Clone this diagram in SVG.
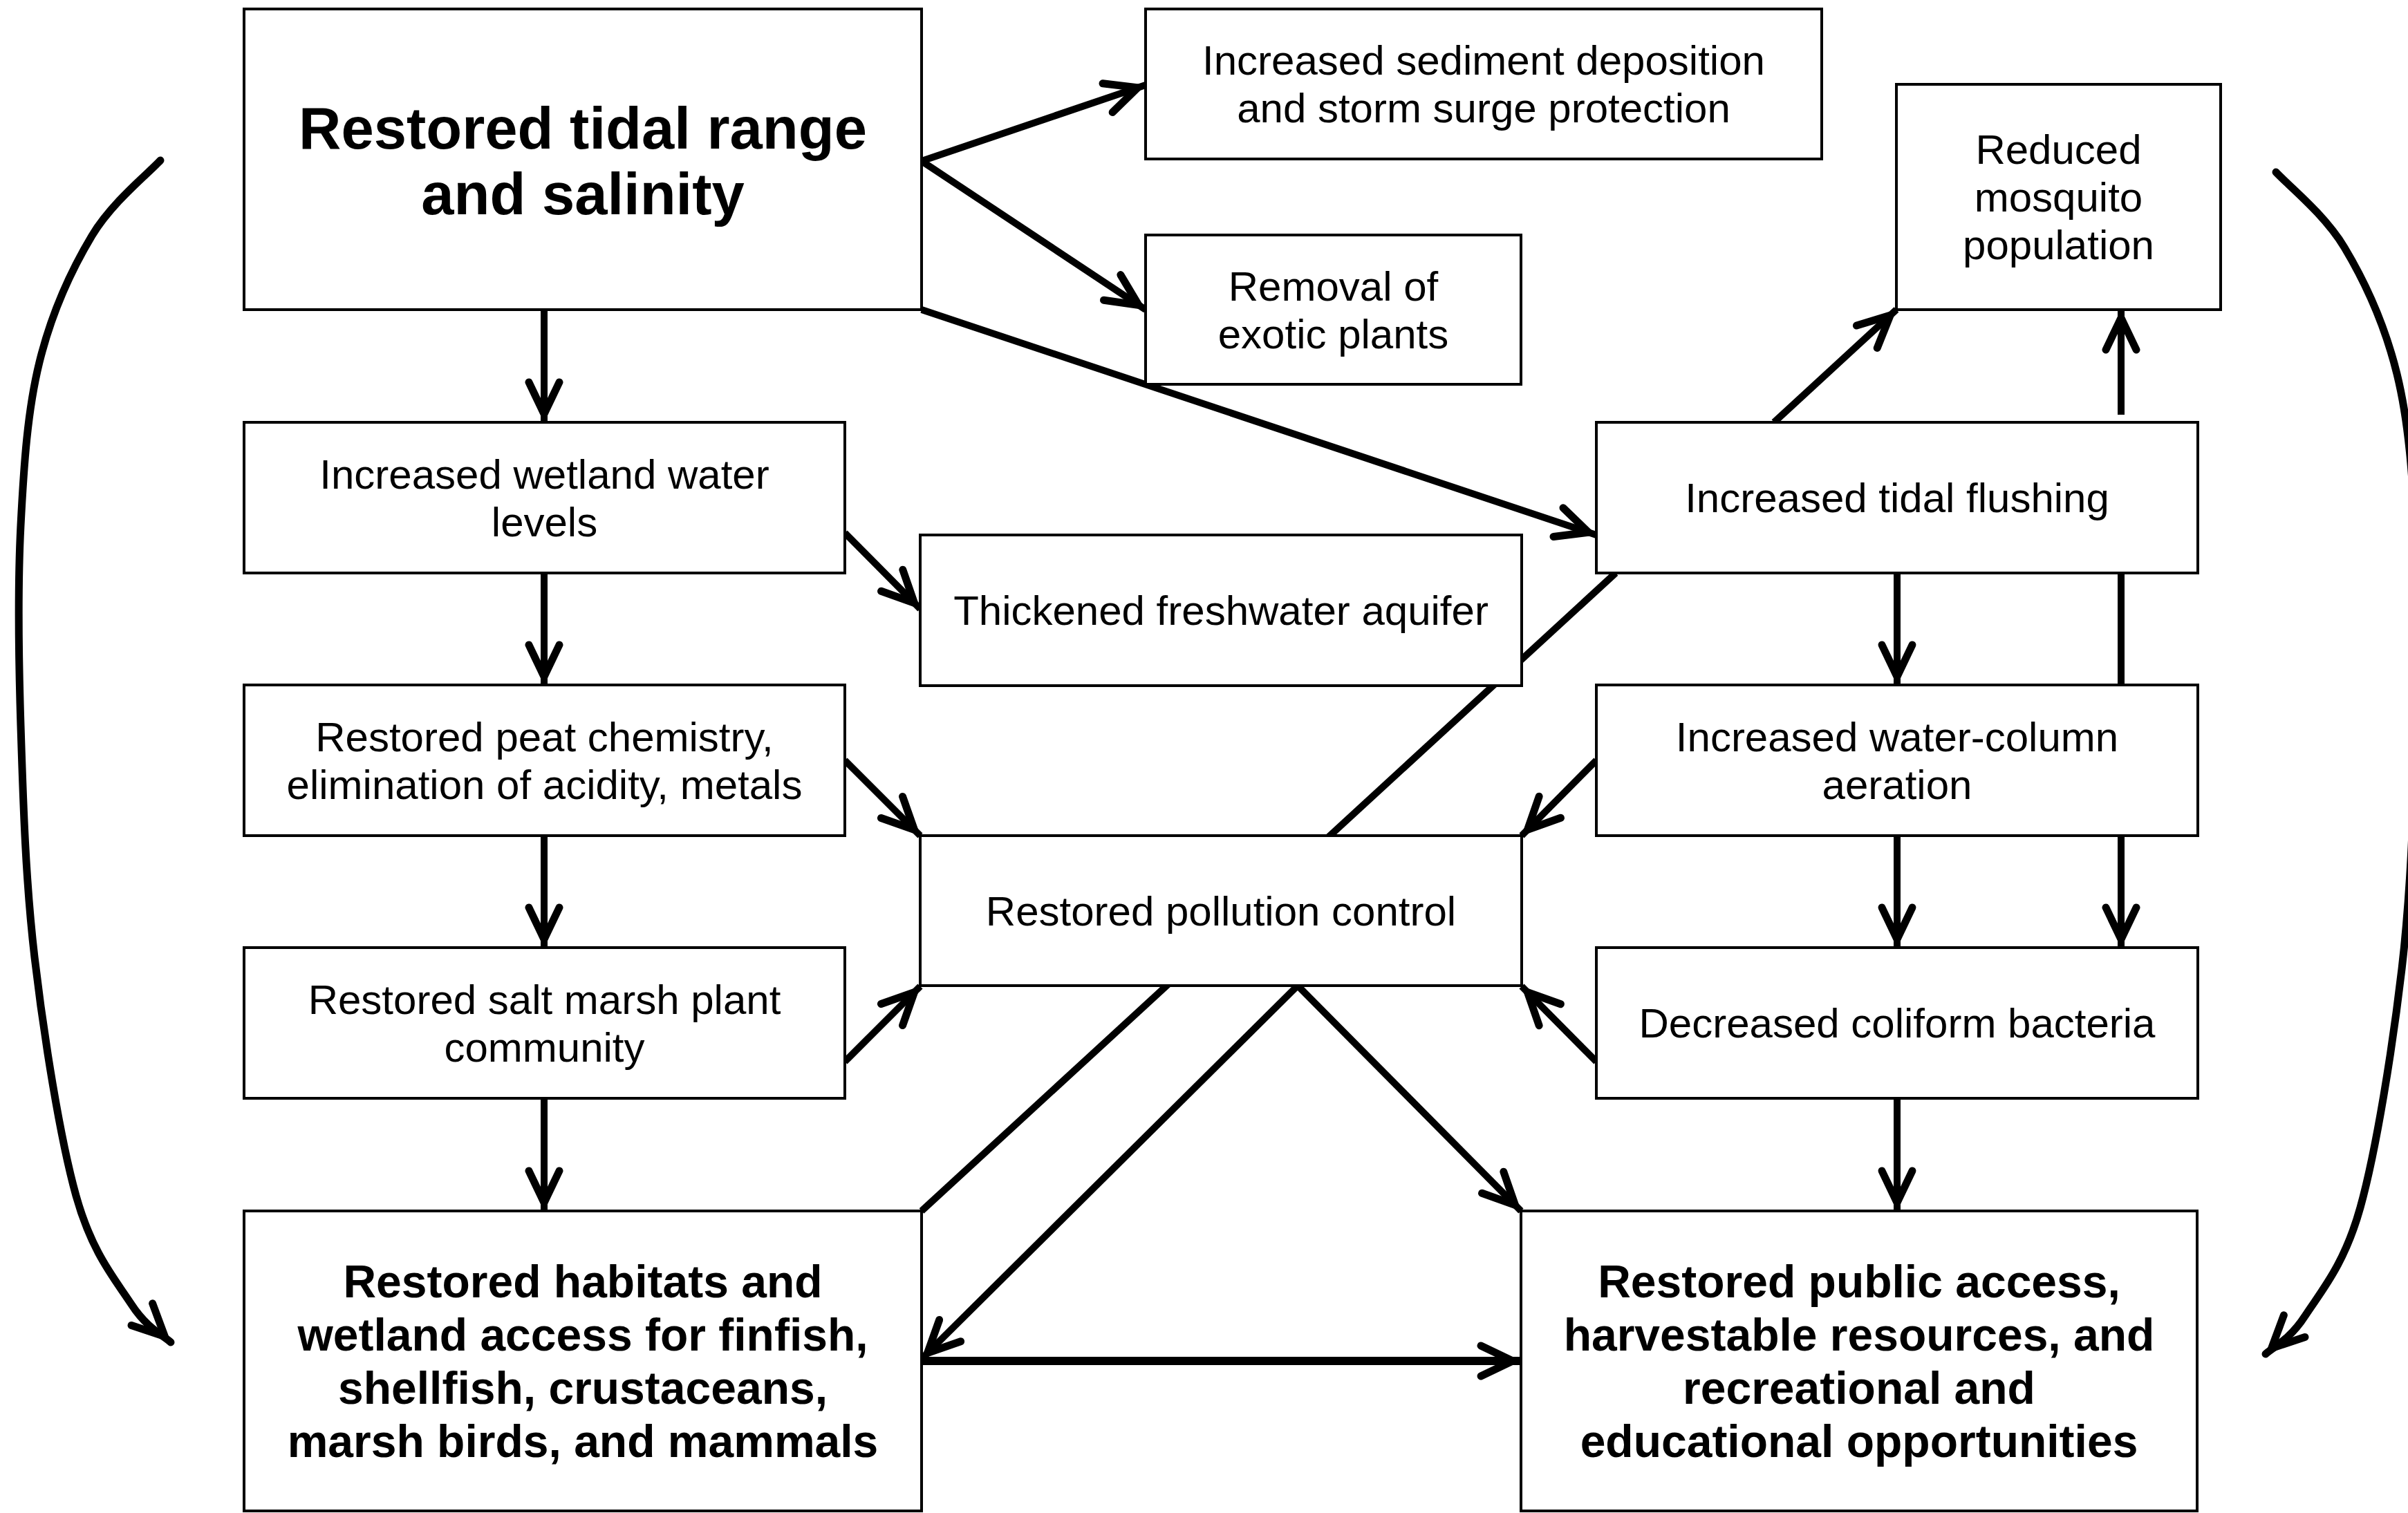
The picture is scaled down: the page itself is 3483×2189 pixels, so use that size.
<svg xmlns="http://www.w3.org/2000/svg" width="3483" height="2189" viewBox="0 0 3483 2189">
<style>
  .box { fill: #fff; stroke: #000; stroke-width: 4; }
  .t { font-family: "Liberation Sans", Arial, sans-serif; font-size: 60px; text-anchor: middle; fill: #000; }
  .tb { font-family: "Liberation Sans", Arial, sans-serif; font-size: 66px; font-weight: bold; text-anchor: middle; fill: #000; }
  .tt { font-family: "Liberation Sans", Arial, sans-serif; font-size: 85px; font-weight: bold; text-anchor: middle; fill: #000; }
  .c { fill: none; stroke: #000; stroke-width: 10; stroke-linecap: butt; }
  .ca { marker-end: url(#ah); }
  .curve { fill: none; stroke: #000; stroke-width: 11; stroke-linecap: round; marker-end: url(#ah); }
</style>
<defs>
  <marker id="ah" markerUnits="userSpaceOnUse" viewBox="-70 -35 80 70" refX="0" refY="0" markerWidth="80" markerHeight="70" orient="auto" overflow="visible">
    <path d="M-58,-22 L-12,0 L-58,22" fill="none" stroke="#000" stroke-width="11" stroke-linejoin="miter" stroke-linecap="round"/>
  </marker>
</defs>
<rect width="3483" height="2189" fill="#fff"/>

<g id="connectors">
  <path class="c ca" d="M1333,233 L1657,123"/>
  <path class="c ca" d="M1333,233 L1657,448"/>
  <path class="c ca" d="M1333,448 L2309,774"/>
  <path class="c ca" d="M787,448 L787,611"/>
  <path class="c ca" d="M787,829 L787,991"/>
  <path class="c ca" d="M787,1209 L787,1371"/>
  <path class="c ca" d="M787,1589 L787,1752"/>
  <path class="c ca" d="M1222,771 L1331,881"/>
  <path class="c ca" d="M1222,1100 L1331,1209"/>
  <path class="c ca" d="M1222,1536 L1331,1427"/>
  <path class="c ca" d="M2309,1100 L2201,1209"/>
  <path class="c ca" d="M2309,1536 L2201,1427"/>
  <path class="c ca" d="M2744,829 L2744,991"/>
  <path class="c ca" d="M2744,1209 L2744,1371"/>
  <path class="c ca" d="M2744,1589 L2744,1752"/>
  <path class="c ca" d="M3068,991 V829 M3068,600 V448"/>
  <path class="c ca" d="M3068,1209 V1371"/>
  <path class="c ca" d="M2566,611 L2743,448"/>
  <path class="c" d="M1333,1752 L2337,829"/>
  <path class="c ca" d="M1877,1426 L1333,1966"/>
  <path class="c ca" d="M1877,1426 L2200,1752"/>
  <path class="c ca" style="stroke-width:12" d="M1333,1969 L2200,1969"/>
  <path id="curveL" class="curve" d="M232,232 C215.5,250.2 162.2,292.3 133,341 C103.8,389.7 74.2,454.2 57,524 C39.8,593.8 34.5,672.3 30,760 C25.5,847.7 26.7,945.8 30,1050 C33.3,1154.2 36.7,1271.7 50,1385 C63.3,1498.3 86.7,1646.3 110,1730 C133.3,1813.7 167.2,1851.7 190,1887 C212.8,1922.3 237.5,1932.8 247,1942"/>
  <path id="curveR" class="curve" transform="translate(3524,17) scale(-1,1)" d="M232,232 C215.5,250.2 162.2,292.3 133,341 C103.8,389.7 74.2,454.2 57,524 C39.8,593.8 34.5,672.3 30,760 C25.5,847.7 26.7,945.8 30,1050 C33.3,1154.2 36.7,1271.7 50,1385 C63.3,1498.3 86.7,1646.3 110,1730 C133.3,1813.7 167.2,1851.7 190,1887 C212.8,1922.3 237.5,1932.8 247,1942"/>
</g>

<g id="n-tidal-range">
  <rect class="box" x="353" y="13" width="980" height="435"/>
  <text class="tt" x="843" y="215">Restored tidal range</text>
  <text class="tt" x="843" y="310">and salinity</text>
</g>
<g id="n-sediment">
  <rect class="box" x="1657" y="13" width="978" height="217"/>
  <text class="t" x="2146" y="108">Increased sediment deposition</text>
  <text class="t" x="2146" y="177">and storm surge protection</text>
</g>
<g id="n-exotic">
  <rect class="box" x="1657" y="340" width="543" height="216"/>
  <text class="t" x="1928.5" y="434.5">Removal of</text>
  <text class="t" x="1928.5" y="503.5">exotic plants</text>
</g>
<g id="n-mosquito">
  <rect class="box" x="2743" y="122" width="469" height="326"/>
  <text class="t" x="2977.5" y="237">Reduced</text>
  <text class="t" x="2977.5" y="306">mosquito</text>
  <text class="t" x="2977.5" y="375">population</text>
</g>
<g id="n-wetland">
  <rect class="box" x="353" y="611" width="869" height="218"/>
  <text class="t" x="787.5" y="706.5">Increased wetland water</text>
  <text class="t" x="787.5" y="775.5">levels</text>
</g>
<g id="n-aquifer">
  <rect class="box" x="1331" y="774" width="870" height="218"/>
  <text class="t" x="1766" y="904">Thickened freshwater aquifer</text>
</g>
<g id="n-peat">
  <rect class="box" x="353" y="991" width="869" height="218"/>
  <text class="t" x="787.5" y="1086.5">Restored peat chemistry,</text>
  <text class="t" x="787.5" y="1155.5">elimination of acidity, metals</text>
</g>
<g id="n-pollution">
  <rect class="box" x="1331" y="1209" width="870" height="217"/>
  <text class="t" x="1766" y="1338.5">Restored pollution control</text>
</g>
<g id="n-saltmarsh">
  <rect class="box" x="353" y="1371" width="869" height="218"/>
  <text class="t" x="787.5" y="1466.5">Restored salt marsh plant</text>
  <text class="t" x="787.5" y="1535.5">community</text>
</g>
<g id="n-flushing">
  <rect class="box" x="2309" y="611" width="870" height="218"/>
  <text class="t" x="2744" y="741">Increased tidal flushing</text>
</g>
<g id="n-aeration">
  <rect class="box" x="2309" y="991" width="870" height="218"/>
  <text class="t" x="2744" y="1086.5">Increased water-column</text>
  <text class="t" x="2744" y="1155.5">aeration</text>
</g>
<g id="n-coliform">
  <rect class="box" x="2309" y="1371" width="870" height="218"/>
  <text class="t" x="2744" y="1501">Decreased coliform bacteria</text>
</g>
<g id="n-habitats">
  <rect class="box" x="353" y="1752" width="980" height="434"/>
  <text class="tb" x="843" y="1877">Restored habitats and</text>
  <text class="tb" x="843" y="1954">wetland access for finfish,</text>
  <text class="tb" x="843" y="2031">shellfish, crustaceans,</text>
  <text class="tb" x="843" y="2108">marsh birds, and mammals</text>
</g>
<g id="n-public">
  <rect class="box" x="2200" y="1752" width="978" height="434"/>
  <text class="tb" x="2689" y="1877">Restored public access,</text>
  <text class="tb" x="2689" y="1954">harvestable resources, and</text>
  <text class="tb" x="2689" y="2031">recreational and</text>
  <text class="tb" x="2689" y="2108">educational opportunities</text>
</g>
</svg>
